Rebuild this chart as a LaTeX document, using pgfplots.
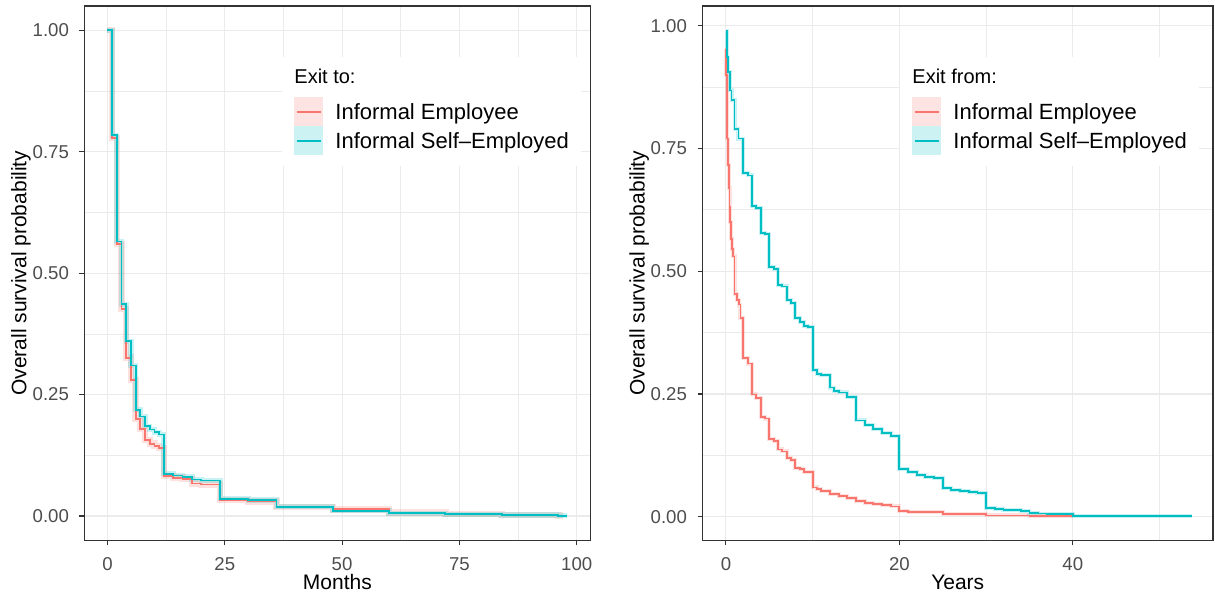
\documentclass[border=0pt]{standalone}
\usepackage{fontspec}
\setmainfont{Liberation Sans}
\usepackage{pgfplots}
\usepackage{pgfplotstable}
\pgfplotsset{compat=1.18}
\definecolor{cred}{HTML}{F8766D}
\definecolor{cteal}{HTML}{00BFC4}
\definecolor{kred}{HTML}{FDE3E2}
\definecolor{kteal}{HTML}{CCF2F3}
\definecolor{gridc}{HTML}{EBEBEB}
\definecolor{tickc}{HTML}{4D4D4D}
\definecolor{framec}{HTML}{333333}

\pgfplotstableread{
x y
0 1.0
1 0.784
2 0.565
3 0.436
4 0.36
5 0.31
6 0.219
7 0.205
8 0.185
9 0.178
10 0.1726
11 0.168
12 0.087
14 0.0836
16 0.081
18 0.0753
20 0.073
24 0.0356
30 0.033
36 0.019
48 0.011
60 0.0055
72 0.0034
84 0.002
96 0.0007
98 0.0007
}\lteal
\pgfplotstableread{
x y
0 1.0
1 0.778
2 0.56
3 0.426
4 0.326
5 0.28
6 0.2
7 0.179
8 0.156
9 0.149
10 0.144
11 0.14
12 0.082
14 0.079
16 0.076
18 0.067
20 0.065
24 0.033
30 0.030
36 0.018
48 0.0137
60 0.0069
72 0.004
84 0.002
96 0.0007
97 0.0007
}\lred
\pgfplotstableread{
x y
0 0.953
0.04 0.90
0.08 0.848
0.12 0.80
0.17 0.77
0.25 0.716
0.33 0.67
0.42 0.63
0.5 0.60
0.58 0.565
0.67 0.545
0.83 0.53
1.0 0.453
1.25 0.442
1.5 0.432
1.67 0.404
2 0.323
2.5 0.312
3 0.249
3.5 0.242
4 0.2035
4.5 0.200
5 0.158
5.5 0.154
6 0.137
6.5 0.133
7 0.119
7.5 0.116
8 0.0996
8.5 0.097
9 0.091
10 0.0596
10.5 0.056
11 0.053
12 0.0456
13 0.042
14 0.0386
15 0.0316
16 0.028
17 0.0267
18 0.024
19 0.021
20 0.0115
21 0.0102
25 0.006
30 0.0027
35 0.001
40 0.0003
}\rred
\pgfplotstableread{
x y
0 0.9885
0.08 0.936
0.25 0.905
0.45 0.868
0.65 0.848
1 0.79
1.45 0.77
2 0.70
2.5 0.695
3 0.633
3.5 0.628
4 0.578
4.5 0.575
5 0.509
5.5 0.505
6 0.472
6.5 0.469
7 0.442
7.5 0.435
8 0.404
8.5 0.396
9 0.389
9.5 0.386
10 0.298
10.5 0.291
11 0.288
12 0.263
12.5 0.256
13 0.253
14 0.244
15 0.196
16 0.186
17 0.179
18 0.17
19 0.165
20 0.0978
21 0.091
22 0.0855
23 0.081
24 0.0794
25 0.058
26 0.055
27 0.052
28 0.050
29 0.049
30 0.0183
31 0.0163
32 0.0143
33 0.0129
34 0.0115
35 0.0075
36 0.0065
37 0.006
38 0.0048
40 0.0007
53.7 0.0007
}\rteal

\pgfplotsset{
  km/.style={
    scale only axis, height=267.15pt,
    ytick={0,0.25,0.5,0.75,1}, yticklabels={0.00,0.25,0.50,0.75,1.00},
    minor ytick={0.125,0.375,0.625,0.875},
    grid=both,
    major grid style={gridc, line width=0.55pt},
    minor grid style={gridc, line width=0.3pt},
    axis line style={framec, line width=0.6pt},
    xtick pos=bottom, ytick pos=left,
    tick align=outside, major tick length=2.5pt, minor tick length=0pt,
    every tick/.style={framec, line width=0.55pt},
    tick label style={font=\fontsize{9.3}{11}\selectfont, text=tickc},
    /pgf/number format/assume math mode=true,
    xticklabel style={anchor=base, inner sep=0pt, yshift=-12.35pt},
    yticklabel style={anchor=east, inner sep=0pt, xshift=-5.1pt},
    label style={font=\fontsize{10.5}{12}\selectfont, text=black},
    xlabel style={at={(axis description cs:0.5,-0.0917)}, anchor=base},
    ylabel={Overall survival probability},
    legend cell align=left,
    legend style={anchor=north west, draw=none, fill=white,
      inner xsep=6pt, inner ysep=5.5pt, row sep=0pt,
      nodes={inner sep=0pt, font=\fontsize{11}{13}\selectfont, text height=11.2pt, text depth=3.4pt}},
  },
  band/.style={const plot mark left, no marks, line width=2.6pt, opacity=0.22, forget plot},
  curve/.style={const plot mark left, no marks, line width=0.9pt, forget plot},
  redkey/.style={legend image code/.code={
      \fill[draw=none, fill=kred] (0pt,-7.3pt) rectangle (14.35pt,7.3pt);
      \path[draw=cred, fill=none, line width=0.9pt] (1.3pt,0pt) -- (13.05pt,0pt);
      \path[draw=none, fill=none] (0pt,0pt) -- (20.5pt,0pt);}},
  tealkey/.style={legend image code/.code={
      \fill[draw=none, fill=kteal] (0pt,-7.3pt) rectangle (14.35pt,7.3pt);
      \path[draw=cteal, fill=none, line width=0.9pt] (1.3pt,0pt) -- (13.05pt,0pt);
      \path[draw=none, fill=none] (0pt,0pt) -- (20.5pt,0pt);}},
}

\begin{document}
\begin{tikzpicture}
\useasboundingbox (0,0) rectangle (607.5pt,300pt);
\begin{axis}[km,
  at={(42.25pt,29.85pt)}, anchor=south west,
  width=252.9pt,
  xmin=-4.9, xmax=102.9, ymin=-0.05, ymax=1.05,
  xtick={0,25,50,75,100}, minor xtick={12.5,37.5,62.5,87.5},
  xlabel={Months},
  ylabel style={at={(axis description cs:-0.11467,0.5)}, anchor=base},
  legend style={at={(axis description cs:0.3905,0.9055)}},
]
\addplot[band, cred, line width=3.2pt] table[x=x,y=y] {\lred};
\addplot[band, cteal] table[x=x,y=y] {\lteal};
\addplot[curve, cred] table[x=x,y=y] {\lred};
\addplot[curve, cteal] table[x=x,y=y] {\lteal};
\addlegendimage{empty legend}
\addlegendentry{\hspace*{-20.5pt}\raisebox{3.5pt}{\fontsize{10}{12}\selectfont Exit to:}}
\addlegendimage{redkey}
\addlegendentry{Informal Employee}
\addlegendimage{tealkey}
\addlegendentry{Informal Self\textendash Employed}
\end{axis}

\begin{axis}[km,
  at={(351.25pt,29.85pt)}, anchor=south west,
  width=255.25pt,
  xmin=-2.7, xmax=56.17, ymin=-0.048, ymax=1.04,
  xtick={0,20,40}, minor xtick={10,30,50},
  xlabel={Years},
  ylabel style={at={(axis description cs:-0.11361,0.5)}, anchor=base},
  legend style={at={(axis description cs:0.3869,0.9055)}},
]
\addplot[band, cred, line width=2pt] table[x=x,y=y] {\rred};
\addplot[band, cteal, line width=2pt] table[x=x,y=y] {\rteal};
\addplot[curve, cred] table[x=x,y=y] {\rred};
\addplot[curve, cteal] table[x=x,y=y] {\rteal};
\addlegendimage{empty legend}
\addlegendentry{\hspace*{-20.5pt}\raisebox{3.5pt}{\fontsize{10}{12}\selectfont Exit from:}}
\addlegendimage{redkey}
\addlegendentry{Informal Employee}
\addlegendimage{tealkey}
\addlegendentry{Informal Self\textendash Employed}
\end{axis}
\end{tikzpicture}
\end{document}
